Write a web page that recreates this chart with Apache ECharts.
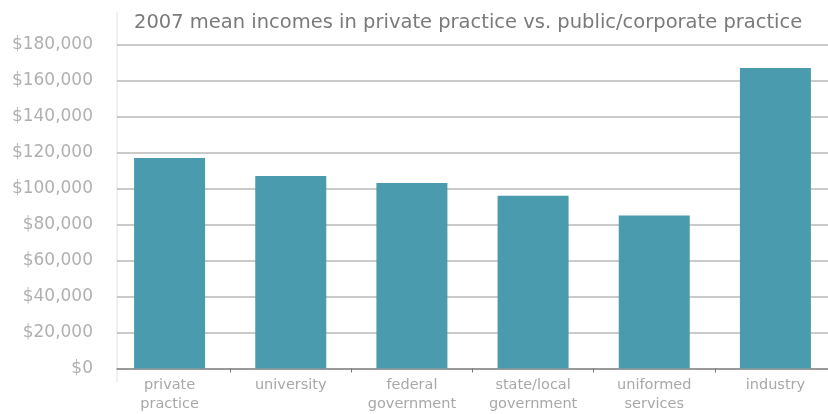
<!DOCTYPE html>
<html>
<head>
<meta charset="utf-8">
<script src="https://cdn.jsdelivr.net/npm/echarts@6/dist/echarts.min.js"></script>
<style>
  html, body { margin: 0; padding: 0; background: #fff; }
  #chart { width: 828px; height: 414px; }
</style>
</head>
<body>
<div id="chart"></div>
<script>
// categories and mean incomes (USD)
const categories = ['private\npractice', 'university', 'federal\ngovernment', 'state/local\ngovernment', 'uniformed\nservices', 'industry'];
const incomes = [117000, 107000, 103000, 96000, 85000, 167000];
const yTicks = [0, 20000, 40000, 60000, 80000, 100000, 120000, 140000, 160000, 180000];

const chart = echarts.init(document.getElementById('chart'));

const fmt = v => '$' + v.toLocaleString('en-US');
const yMin = yTicks[0];
const yMax = yTicks[yTicks.length - 1];

chart.setOption({
  animation: false,
  backgroundColor: '#fff',
  title: {
    text: '2007 mean incomes in private practice vs. public/corporate practice',
    left: 129,
    top: 8,
    textStyle: {
      color: '#7a7a7a',
      fontSize: 19.5,
      fontWeight: 'normal',
      fontFamily: 'DejaVu Sans'
    }
  },
  // grid 0: gridlines, y labels, axis line; grid 1: bars, ticks, category labels
  grid: [
    { left: 117, right: 0, top: 44.5, bottom: 45.5, outerBoundsMode: 'none' },
    { left: 109, width: 727, top: 44.5, bottom: 45.5, outerBoundsMode: 'none' }
  ],
  graphic: [{
    type: 'line',
    shape: { x1: 117, y1: 12, x2: 117, y2: 382 },
    style: { stroke: '#e2e2e2', lineWidth: 1 },
    z: 0
  }],
  xAxis: [{
    type: 'category',
    gridIndex: 0,
    data: categories,
    axisLine: { lineStyle: { color: '#8a8a8a', width: 1.5 } },
    axisTick: { show: false },
    axisLabel: { show: false }
  }, {
    type: 'category',
    gridIndex: 1,
    data: categories,
    axisLine: { show: false },
    axisTick: {
      show: true,
      interval: idx => idx > 0,
      length: 4,
      lineStyle: { color: '#777' }
    },
    axisLabel: {
      interval: 0,
      color: '#a8a8a8',
      fontSize: 14.5,
      lineHeight: 19,
      margin: 7,
      fontFamily: 'DejaVu Sans'
    }
  }],
  yAxis: [{
    type: 'value',
    gridIndex: 0,
    min: yMin,
    max: yMax,
    interval: 20000,
    axisLine: { show: false },
    axisTick: { show: false },
    splitLine: { lineStyle: { color: '#b8b8b8', width: 1.5 } },
    axisLabel: {
      color: '#b0b0b0',
      fontSize: 17,
      margin: 24,
      fontFamily: 'DejaVu Sans',
      formatter: fmt
    }
  }, {
    type: 'value',
    gridIndex: 1,
    min: yMin,
    max: yMax,
    interval: 20000,
    show: false
  }],
  series: [{
    type: 'bar',
    xAxisIndex: 1,
    yAxisIndex: 1,
    data: incomes,
    barWidth: 71,
    itemStyle: { color: '#4a9bae' }
  }]
});
</script>
</body>
</html>
